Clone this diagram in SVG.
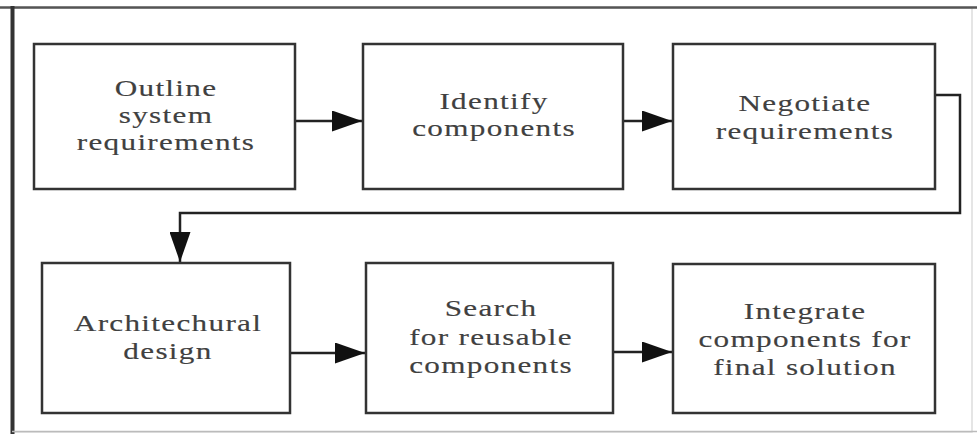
<svg xmlns="http://www.w3.org/2000/svg" width="977" height="434" viewBox="0 0 977 434">
<defs>
<style>
.box{fill:#fff;stroke:#333;stroke-width:2.5}
.lbl{font-family:"Liberation Serif","Times New Roman",serif;font-size:24px;fill:#404040;text-anchor:middle;letter-spacing:1px;stroke:#404040;stroke-width:0.15}
.con{fill:none;stroke:#222;stroke-width:2.5}
</style>
<marker id="ah" viewBox="0 0 10 10" refX="10" refY="5" markerWidth="30" markerHeight="21" markerUnits="userSpaceOnUse" orient="auto" preserveAspectRatio="none">
<path d="M0,0 L10,5 L0,10 z" fill="#111"/>
</marker>
</defs>
<rect x="0" y="0" width="977" height="434" fill="#fff"/>
<g id="frame">
<rect x="12" y="8" width="960" height="424" fill="none" stroke="#ddd" stroke-width="1.5"/>
<line x1="0" y1="7.5" x2="977" y2="7.5" stroke="#555" stroke-width="2.5"/>
<line x1="12.5" y1="6" x2="12.5" y2="434" stroke="#333" stroke-width="4"/>
<line x1="12" y1="431.5" x2="977" y2="431.5" stroke="#bbb" stroke-width="1.5"/>
</g>
<g id="connectors">
<path class="con" d="M295,121 H362" marker-end="url(#ah)"/>
<path class="con" d="M623,121 H672" marker-end="url(#ah)"/>
<path class="con" d="M935,95 H960 V213 H180 V262" marker-end="url(#ah)"/>
<path class="con" d="M290,353 H365" marker-end="url(#ah)"/>
<path class="con" d="M613,352 H672" marker-end="url(#ah)"/>
</g>
<g id="n1">
<rect class="box" x="34" y="44" width="261" height="145"/>
<text class="lbl" transform="translate(166,0) scale(1.3,1)"><tspan x="0" y="96">Outline</tspan><tspan x="0" y="123">system</tspan><tspan x="0" y="150">requirements</tspan></text>
</g>
<g id="n2">
<rect class="box" x="363" y="44" width="260" height="145"/>
<text class="lbl" transform="translate(494,0) scale(1.3,1)"><tspan x="0" y="109">Identify</tspan><tspan x="0" y="136">components</tspan></text>
</g>
<g id="n3">
<rect class="box" x="673" y="44" width="262" height="145"/>
<text class="lbl" transform="translate(805,0) scale(1.3,1)"><tspan x="0" y="111">Negotiate</tspan><tspan x="0" y="139">requirements</tspan></text>
</g>
<g id="n4">
<rect class="box" x="42" y="263" width="248" height="150"/>
<text class="lbl" transform="translate(168,0) scale(1.3,1)"><tspan x="0" y="331">Architechural</tspan><tspan x="0" y="359">design</tspan></text>
</g>
<g id="n5">
<rect class="box" x="366" y="263" width="247" height="150"/>
<text class="lbl" transform="translate(491,0) scale(1.3,1)"><tspan x="0" y="316">Search</tspan><tspan x="0" y="345">for reusable</tspan><tspan x="0" y="373">components</tspan></text>
</g>
<g id="n6">
<rect class="box" x="673" y="264" width="262" height="149"/>
<text class="lbl" transform="translate(805,0) scale(1.3,1)"><tspan x="0" y="319">Integrate</tspan><tspan x="0" y="347">components for</tspan><tspan x="0" y="375">final solution</tspan></text>
</g>
</svg>
